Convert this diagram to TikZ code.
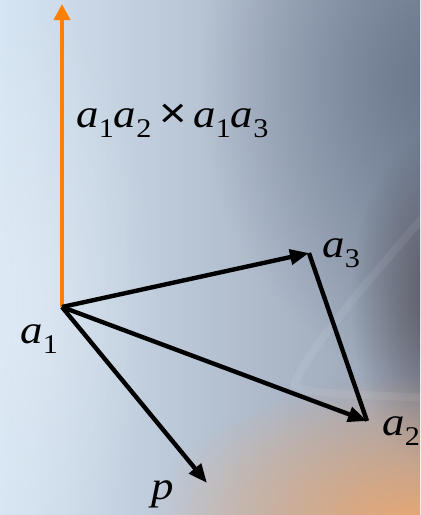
\documentclass[tikz,border=0pt]{standalone}
\usepackage{fontspec}
\setmainfont{Liberation Serif}
\newfontfamily\crossfont{Liberation Sans}
\usetikzlibrary{arrows.meta,fadings}
\tikzfading[name=softfade, inner color=transparent!0, outer color=transparent!100]
\definecolor{bgA}{RGB}{214,229,243}
\definecolor{bgB}{RGB}{150,160,178}
\definecolor{bgTR}{RGB}{92,106,128}
\definecolor{bgDark}{RGB}{75,70,76}
\definecolor{bgPeach}{RGB}{236,168,112}
\definecolor{vorange}{RGB}{255,128,0}
\newcommand\mysub[1]{\raisebox{-5pt}{\fontsize{13.5}{14}\selectfont #1}}
\newcommand\va{\textit{a}}
\newcommand\mycross{{\crossfont\fontsize{21}{22}\selectfont ×}}
\tikzset{
  vec/.style={line width=2.2pt,-{Triangle[length=9.5pt,width=7.5pt]}},
  side/.style={line width=2.2pt},
  lab/.style={anchor=base west,inner sep=0pt,font=\fontsize{20}{24}\selectfont},
}
\begin{document}
\begin{tikzpicture}[x=0.5pt,y=-0.5pt]
\useasboundingbox (0,0) rectangle (420,515);
% background
\shade[left color=bgA,right color=bgB] (0,0) rectangle (420,515);
\begin{scope}
\clip (0,0) rectangle (420,515);
\fill[bgTR,opacity=0.8,path fading=softfade] (440,80) ellipse (240 and 300);
\fill[bgDark,opacity=0.8,path fading=softfade] (440,300) ellipse (90 and 170);
\fill[bgPeach,opacity=0.95,path fading=softfade] (410,525) ellipse (260 and 150);
\fill[white,opacity=0.25,path fading=softfade] (40,300) ellipse (120 and 300);
\draw[white,opacity=0.07,line width=4pt] (425,215) .. controls (360,290) and (300,360) .. (295,385) .. controls (300,395) and (380,395) .. (425,398);
\end{scope}
% points
\coordinate (a1) at (62,307);
\coordinate (n) at (62,4);
\coordinate (a3) at (309,253);
\coordinate (a2) at (367,421);
\coordinate (p) at (207,483);
% vectors
\draw[vorange,line width=2.2pt,-{Triangle[length=8pt,width=8pt]}] (a1) -- (n);
\draw[vec] (a1) -- (a3);
\draw[vec] (a1) -- (a2);
\draw[vec] (a1) -- (p);
\draw[side] (a3) -- (a2);
% labels
\node[lab] (lc) at (76,127) {\scalebox{1.12}[1]{\va\mysub{1}\va\mysub{2}\hspace{3.5pt}\mycross\hspace{3pt}\va\mysub{1}\va\mysub{3}}};
\node[lab] (l1) at (20,343) {\scalebox{1.12}[1]{\va\mysub{1}}};
\node[lab] (l3) at (322,257) {\scalebox{1.12}[1]{\va\mysub{3}}};
\node[lab] (l2) at (382,435) {\scalebox{1.12}[1]{\va\mysub{2}}};
\node[lab] (lp) at (151,499) {\scalebox{1.12}[1]{\textit{p}}};
\end{tikzpicture}
\end{document}
